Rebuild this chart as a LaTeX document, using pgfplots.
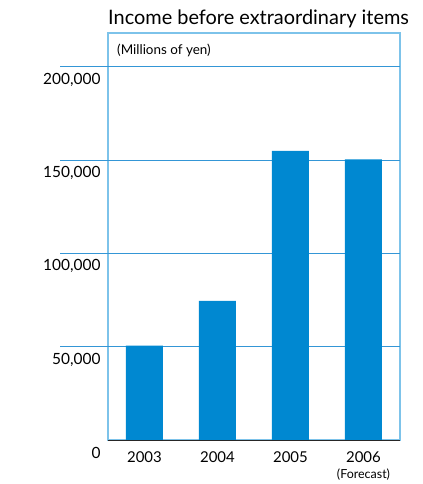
\documentclass[border=0pt]{standalone}
\usepackage{fontspec}
\setmainfont{Lato}
\usepackage{pgfplots}
\pgfplotsset{compat=1.18}
\definecolor{barblue}{RGB}{0,136,209}
\definecolor{boxblue}{RGB}{125,195,234}
\definecolor{gridblue}{RGB}{52,150,214}
\begin{document}
\begin{tikzpicture}
\useasboundingbox (-108bp,-44bp) rectangle (315bp,440bp);
\begin{axis}[
  at={(0,0)}, anchor=south west,
  width=292bp, height=407bp, scale only axis,
  xmin=-0.5, xmax=3.5, ymin=0, ymax=218000,
  ybar, bar width=37bp,
  xtick={0,1,2,3},
  xticklabels={2003,2004,2005,{2006\\[-1pt]{\fontsize{12.5}{13}\selectfont(Forecast)}}},
  xticklabel style={align=center, font=\fontsize{15}{17}\selectfont, yshift=-8bp},
  ytick={0,50000,100000,150000,200000},
  yticklabels={0,{50,000},{100,000},{150,000},{200,000}},
  scaled y ticks=false,
  yticklabel style={anchor=east, yshift=-13bp, xshift=-4bp, font=\fontsize{15.5}{17}\selectfont},
  major tick length=0pt,
  axis line style={boxblue, line width=1.2pt},
  clip=false,
]
\pgfplotsinvokeforeach{50000,100000,150000,200000}{
  \draw[gridblue, line width=0.9pt] (axis cs:-0.5,#1) ++(-84bp,0) -- (axis cs:3.5,#1);
}
\addplot[fill=barblue, draw=none] coordinates {(0,50500) (1,74500) (2,154900) (3,150300)};
\draw[black!85, line width=1pt] (rel axis cs:0,0) -- (rel axis cs:1,0);
\node[anchor=west, font=\fontsize{13.5}{15}\selectfont, inner sep=0pt] at (rel axis cs:0,1) [xshift=9bp, yshift=-17bp] {(Millions of yen)};
\node[anchor=base west, font=\fontsize{20}{22}\selectfont, inner sep=0pt] at (rel axis cs:0,1) [yshift=8bp] {Income before extraordinary items};
\end{axis}
\end{tikzpicture}
\end{document}
